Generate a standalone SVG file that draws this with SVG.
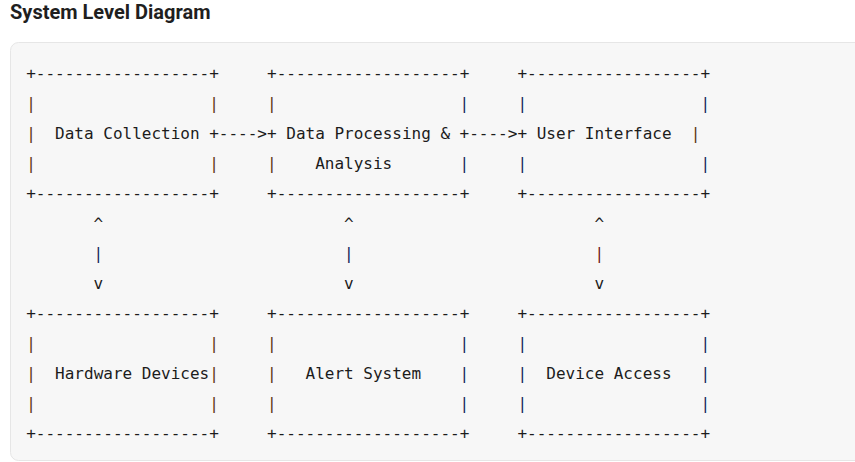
<svg xmlns="http://www.w3.org/2000/svg" width="855" height="462" viewBox="0 0 855 462">
<style>
.t{font-family:"DejaVu Sans Mono","Liberation Mono",monospace;font-size:16px;fill:#1c1c1c;white-space:pre}
.br{fill:#5e3512}
.bl{fill:#14245a}
.rd{fill:#6e1515}
.title{font-family:Roboto,"Liberation Sans",sans-serif;font-weight:700;font-size:20px;fill:#1f1f1f}
</style>
<rect width="855" height="462" fill="#ffffff"/>
<text class="title" x="10" y="19">System Level Diagram</text>
<rect x="10.5" y="42.5" width="860" height="418" rx="8" fill="#f7f7f7" stroke="#e6e6e6"/>

<g id="data-collection">
<text class="t" x="26.2" y="79">+------------------+</text>
<text class="t br" x="26.2" y="109">|</text><text class="t br" x="209.2" y="109">|</text>
<text class="t br" x="26.2" y="139">|</text><text class="t" x="55.1" y="139">Data Collection</text><text class="t" x="209.2" y="139">+</text>
<text class="t br" x="26.2" y="169">|</text><text class="t br" x="209.2" y="169">|</text>
<text class="t" x="26.2" y="199">+------------------+</text>
</g>

<g id="data-processing">
<text class="t" x="267.0" y="79">+-------------------+</text>
<text class="t br" x="267.0" y="109">|</text><text class="t bl" x="459.6" y="109">|</text>
<text class="t" x="267.0" y="139">+</text><text class="t" x="286.3" y="139">Data Processing &amp;</text><text class="t" x="459.6" y="139">+</text>
<text class="t br" x="267.0" y="169">|</text><text class="t" x="315.2" y="169">Analysis</text><text class="t bl" x="459.6" y="169">|</text>
<text class="t" x="267.0" y="199">+-------------------+</text>
</g>

<g id="user-interface">
<text class="t" x="517.4" y="79">+------------------+</text>
<text class="t bl" x="517.4" y="109">|</text><text class="t bl" x="700.4" y="109">|</text>
<text class="t" x="517.4" y="139">+</text><text class="t" x="536.7" y="139">User Interface</text><text class="t br" x="690.8" y="139">|</text>
<text class="t bl" x="517.4" y="169">|</text><text class="t bl" x="700.4" y="169">|</text>
<text class="t" x="517.4" y="199">+------------------+</text>
</g>

<g id="hardware-devices">
<text class="t" x="26.2" y="319">+------------------+</text>
<text class="t br" x="26.2" y="349">|</text><text class="t br" x="209.2" y="349">|</text>
<text class="t br" x="26.2" y="379">|</text><text class="t" x="55.1" y="379">Hardware Devices</text><text class="t br" x="209.2" y="379">|</text>
<text class="t br" x="26.2" y="409">|</text><text class="t br" x="209.2" y="409">|</text>
<text class="t" x="26.2" y="439">+------------------+</text>
</g>

<g id="alert-system">
<text class="t" x="267.0" y="319">+-------------------+</text>
<text class="t br" x="267.0" y="349">|</text><text class="t bl" x="459.6" y="349">|</text>
<text class="t br" x="267.0" y="379">|</text><text class="t" x="305.5" y="379">Alert System</text><text class="t bl" x="459.6" y="379">|</text>
<text class="t br" x="267.0" y="409">|</text><text class="t bl" x="459.6" y="409">|</text>
<text class="t" x="267.0" y="439">+-------------------+</text>
</g>

<g id="device-access">
<text class="t" x="517.4" y="319">+------------------+</text>
<text class="t bl" x="517.4" y="349">|</text><text class="t bl" x="700.4" y="349">|</text>
<text class="t bl" x="517.4" y="379">|</text><text class="t" x="546.3" y="379">Device Access</text><text class="t bl" x="700.4" y="379">|</text>
<text class="t bl" x="517.4" y="409">|</text><text class="t bl" x="700.4" y="409">|</text>
<text class="t" x="517.4" y="439">+------------------+</text>
</g>

<g id="connectors">
<text class="t" x="218.8" y="139">----&gt;</text>
<text class="t" x="469.2" y="139">----&gt;</text>
<text class="t" x="93.6" y="229">^</text><text class="t bl" x="93.6" y="259">|</text><text class="t" x="93.6" y="289">v</text>
<text class="t" x="344.1" y="229">^</text><text class="t bl" x="344.1" y="259">|</text><text class="t" x="344.1" y="289">v</text>
<text class="t" x="594.5" y="229">^</text><text class="t rd" x="594.5" y="259">|</text><text class="t" x="594.5" y="289">v</text>
</g>
</svg>
